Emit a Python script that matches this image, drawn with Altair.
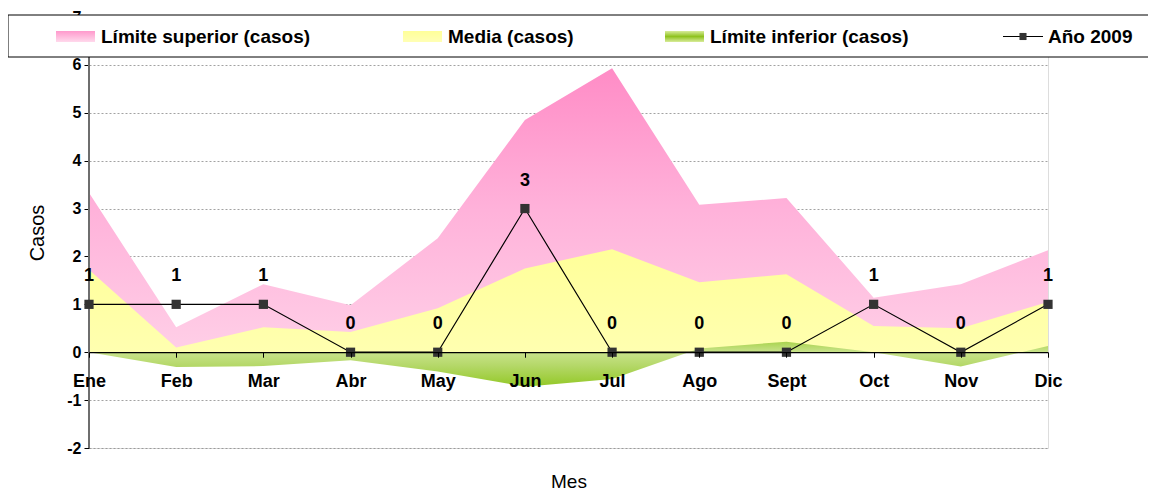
import altair as alt
import pandas as pd

months = ["Ene", "Feb", "Mar", "Abr", "May", "Jun", "Jul", "Ago", "Sept", "Oct", "Nov", "Dic"]
lim_sup = [3.33, 0.52, 1.42, 0.98, 2.38, 4.85, 5.93, 3.08, 3.22, 1.14, 1.42, 2.13]
media = [1.72, 0.10, 0.52, 0.42, 0.92, 1.75, 2.15, 1.46, 1.63, 0.55, 0.50, 1.05]
lim_inf = [0.00, -0.31, -0.29, -0.17, -0.40, -0.72, -0.56, 0.08, 0.22, 0.00, -0.30, 0.13]
anio_2009 = [1, 1, 1, 0, 0, 3, 0, 0, 0, 1, 0, 1]

legend_labels = ["Límite superior (casos)", "Media (casos)", "Límite inferior (casos)", "Año 2009"]

df = pd.DataFrame({
    "mes": months,
    "sup": lim_sup,
    "media": media,
    "inf": lim_inf,
    "y2009": anio_2009,
})

W, H = 959, 431
FONT = "Liberation Sans"
ymin, ymax = -2, 7

x_enc = alt.X(
    "mes:O", sort=months,
    scale=alt.Scale(type="point", padding=0),
    axis=alt.Axis(
        title="Mes", labelAngle=0, offset=-H * (0 - ymin) / (ymax - ymin),
        domainColor="#000000", domainWidth=1.2, tickColor="#000000", tickSize=5,
        labelFont=FONT, labelFontSize=18, labelFontWeight="bold", labelColor="#000000",
        labelPadding=15, titleFont=FONT, titleFontSize=19, titleFontWeight="normal",
        titleColor="#000000", titleY=129, titleBaseline="middle", grid=False, zindex=1,
    ),
)
y_scale = alt.Scale(domain=[ymin, ymax], nice=False, zero=False)


def grad(stops):
    return alt.Gradient(
        gradient="linear", x1=0, x2=0, y1=0, y2=1,
        stops=[alt.GradientStop(color=c, offset=o) for o, c in stops],
    )


pink = grad([(0, "#ff8cc6"), (0.5, "#ffb2da"), (1, "#ffcfe7")])
yellow = grad([(0, "#ffff99"), (1, "#ffffb0")])
green = grad([(0, "#a9d34e"), (0.23, "#c9e38c"), (0.55, "#b3d766"), (1, "#93c826")])

base = alt.Chart(df)

area_sup = base.mark_area(color=pink, opacity=1).encode(
    x=x_enc,
    y=alt.Y("sup:Q", scale=y_scale, axis=alt.Axis(
        title="Casos", values=list(range(ymin, ymax + 1)), domain=False,
        labelExpr="'' + datum.value",
        tickColor="#000000", tickSize=5, labelPadding=3,
        labelFont=FONT, labelFontSize=16, labelFontWeight="bold", labelColor="#000000",
        grid=True, gridColor="#8a8a8a", gridDash=[2, 2], gridWidth=0.8,
        titleFont=FONT, titleFontSize=20, titleFontWeight="normal", titleColor="#000000",
        titleX=-52, titleY=H / 2, titleAngle=270, titleBaseline="middle", titleAlign="center",
        zindex=0,
    )),
    y2=alt.datum(0),
)
area_media = base.mark_area(color=yellow, opacity=1).encode(
    x=alt.X("mes:O", sort=months), y=alt.Y("media:Q"), y2=alt.datum(0)
)
area_inf = base.mark_area(color=green, opacity=1).encode(
    x=alt.X("mes:O", sort=months), y=alt.Y("inf:Q"), y2=alt.datum(0)
)
line = base.mark_line(color="#000000", strokeWidth=1.2).encode(
    x=alt.X("mes:O", sort=months), y=alt.Y("y2009:Q")
)
pts = base.mark_square(color="#333333", size=85, opacity=1, filled=True).encode(
    x=alt.X("mes:O", sort=months), y=alt.Y("y2009:Q")
)
labels = base.mark_text(dy=-28, font=FONT, fontSize=18, fontWeight="bold", color="#000000").encode(
    x=alt.X("mes:O", sort=months), y=alt.Y("y2009:Q"), text=alt.Text("y2009:Q")
)

one = pd.DataFrame({"k": [0]})
leftline = alt.Chart(one).mark_rule(color="#6e6e6e", strokeWidth=2).encode(
    x=alt.value(0), y=alt.value(0), y2=alt.value(H)
)

# legend
LY = 19.5
leg_box = alt.Chart(one).mark_rect(fill="#ffffff", stroke="#000000", strokeWidth=1).encode(
    x=alt.value(-81), x2=alt.value(1080), y=alt.value(-2), y2=alt.value(40)
)
sw_pink = alt.Chart(one).mark_rect(color=grad([(0, "#ff99cc"), (1, "#ffd9ec")])).encode(
    x=alt.value(-33), x2=alt.value(6), y=alt.value(14), y2=alt.value(25)
)
sw_yellow = alt.Chart(one).mark_rect(color=grad([(0, "#ffff99"), (1, "#ffffb5")])).encode(
    x=alt.value(314), x2=alt.value(353), y=alt.value(14), y2=alt.value(25)
)
sw_green = alt.Chart(one).mark_rect(
    color=grad([(0, "#d8ec9a"), (0.5, "#8fc21e"), (1, "#d8ec9a")])
).encode(
    x=alt.value(576), x2=alt.value(615), y=alt.value(14), y2=alt.value(25)
)
leg_line = alt.Chart(one).mark_rule(color="#000000", strokeWidth=1.2).encode(
    x=alt.value(914), x2=alt.value(954), y=alt.value(LY)
)
leg_sq = alt.Chart(one).mark_square(color="#333333", size=50, opacity=1).encode(
    x=alt.value(934), y=alt.value(LY)
)
text_x = [12, 359, 621, 959]
leg_texts = [
    alt.Chart(one).mark_text(
        text=t, align="left", baseline="middle", font=FONT, fontSize=19,
        fontWeight="bold", color="#000000",
    ).encode(x=alt.value(tx), y=alt.value(LY))
    for t, tx in zip(legend_labels, text_x)
]

chart = alt.layer(
    area_sup, area_media, area_inf, leftline, line, pts, labels,
    leg_box, sw_pink, sw_yellow, sw_green, leg_line, leg_sq, *leg_texts,
).properties(
    width=W, height=H,
    autosize=alt.AutoSizeParams(type="none"),
    padding={"left": 81, "top": 9, "right": 100, "bottom": 44},
).configure_view(
    fill="#c0c0c0", stroke="#a0a0a0", strokeWidth=1,
).configure(background="#ffffff")

chart.save("out.html", embed_options={"renderer": "svg", "actions": False})
